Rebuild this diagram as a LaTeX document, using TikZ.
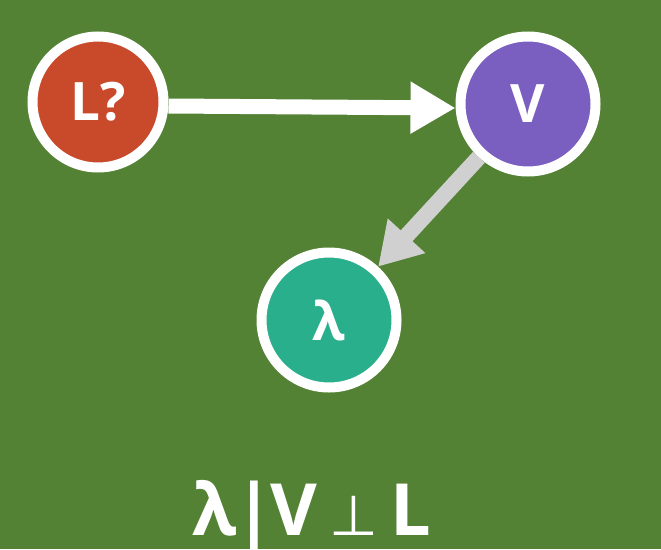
\documentclass[tikz,border=0pt]{standalone}
\usepackage{fontspec}
\setmainfont{Open Sans}
\newfontfamily\symfont{DejaVu Sans}
\usetikzlibrary{arrows.meta}
\definecolor{bggreen}{HTML}{548235}
\definecolor{nodered}{HTML}{C9492B}
\definecolor{nodepurple}{HTML}{7A5FC0}
\definecolor{nodeteal}{HTML}{2AAF8C}
\definecolor{arrowgrey}{HTML}{D0D0D0}
\tikzset{
  varnode/.style={circle, draw=white, line width=10pt, inner sep=0pt,
    text=white, font=\fontsize{53}{58}\selectfont\bfseries},
  whitearrow/.style={draw=white, line width=15pt,
    -{Triangle[width=49pt,length=45pt]}},
  greyarrow/.style={draw=arrowgrey, line width=16pt,
    -{Triangle[width=48pt,length=42pt]}},
  caption/.style={text=white, inner sep=0pt, anchor=base,
    font=\fontsize{72}{78}\selectfont\bfseries}
}
\begin{document}
\begin{tikzpicture}[x=1pt,y=-1pt]
\fill[bggreen] (0,0) rectangle (661,549);
\useasboundingbox (0,0) rectangle (661,549);
\node[varnode, fill=nodered, minimum size=131pt] (L) at (98,102) {L?};
\node[varnode, fill=nodepurple, minimum size=135pt] (V) at (528,104) {V};
\node[varnode, fill=nodeteal, minimum size=135pt] (lam) at (329,320) {λ};
\draw[whitearrow] ([yshift=-4pt]L.east) -- ([yshift=-4pt]V.west);
\draw[greyarrow] (V) -- (lam);
\node[caption] (cap) at (312,535) {λ\kern-3pt|\kern-3pt V\kern12pt{\symfont\fontsize{56}{60}\selectfont\mdseries ⊥}\kern12pt L};
\end{tikzpicture}
\end{document}
